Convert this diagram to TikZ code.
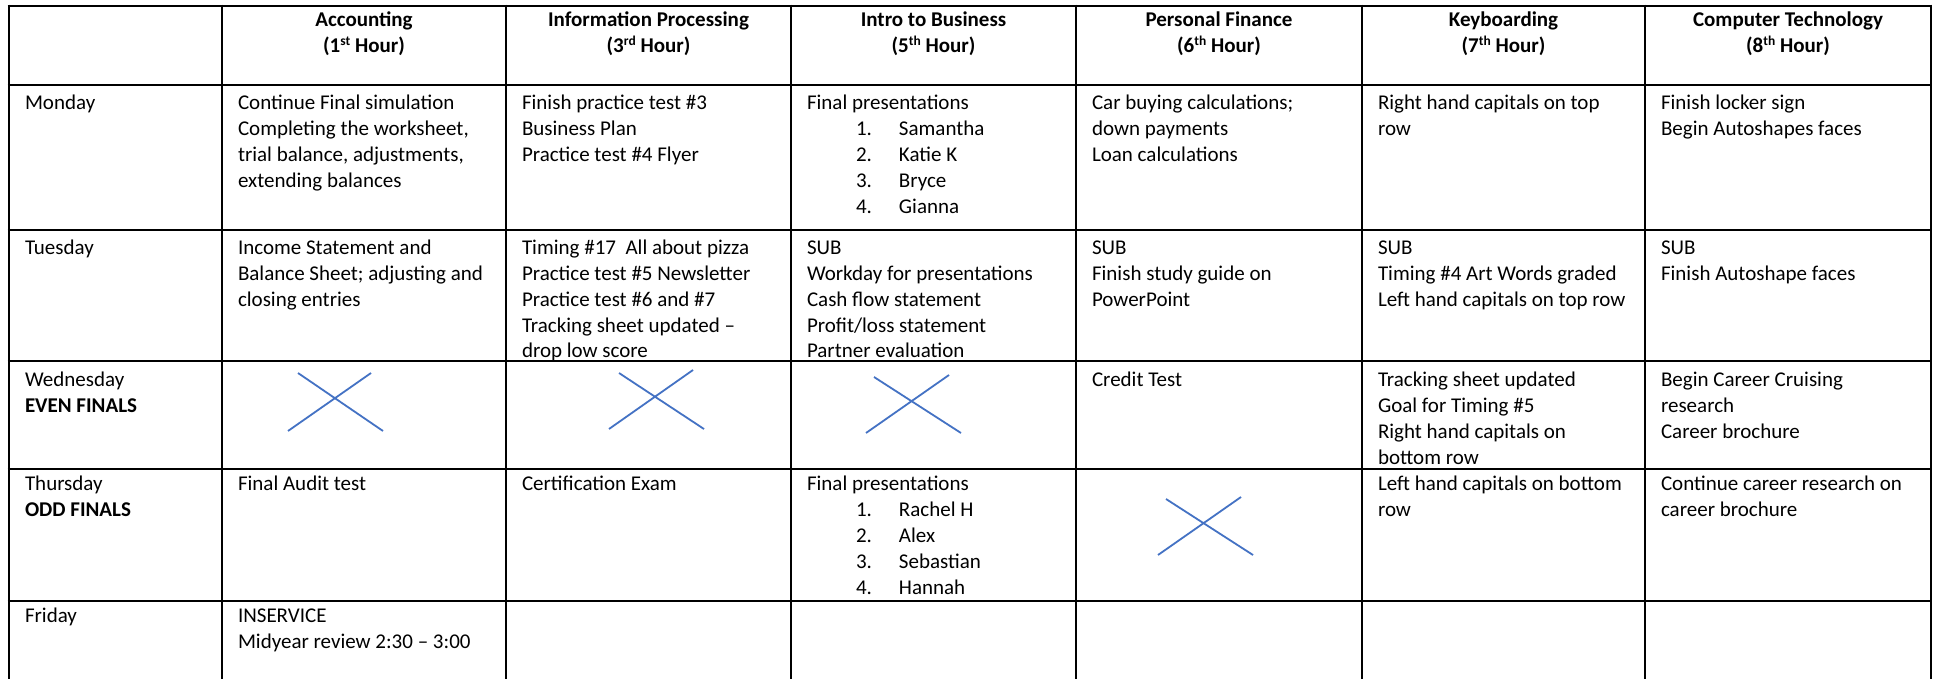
\documentclass[tikz,border=0pt]{standalone}
\usepackage{fontspec}
\setmainfont{Carlito}
\definecolor{xblue}{HTML}{4472C4}
\newcommand\hsup[1]{\raisebox{7.5pt}{\fontsize{13.5}{13.5}\selectfont #1}}
\newcommand\li[2]{\hspace*{49pt}\makebox[43pt][l]{#1}#2}
\newcommand\celltxt[1]{\begin{tabular}[t]{@{}l@{}}#1\end{tabular}}
\newcommand\headtxt[1]{\begin{tabular}[t]{@{}c@{}}#1\end{tabular}}
\begin{document}
\begin{tikzpicture}[x=1pt,y=-1pt,
  every node/.style={font=\fontsize{21}{26}\selectfont, inner sep=0pt, outer sep=0pt, text=black},
  cell/.style={anchor=base west},
  head/.style={anchor=base, font=\fontsize{21}{26}\selectfont\bfseries},
  gridline/.style={line width=2.6pt, black},
  xmark/.style={line width=1.8pt, xblue}]
\useasboundingbox (0,0) rectangle (1935,679);
\fill[white] (0,0) rectangle (1935,679);
% grid
\foreach \y in {6,85,230,361,469,601}
  \draw[gridline] (7.7,\y) -- (1932.3,\y);
\foreach \x in {9,222,506,791,1076,1362,1645,1931}
  \draw[gridline] (\x,4.7) -- (\x,682);
% header
\node[head] (h1) at (364,27) {\headtxt{Accounting\\(1\hsup{st} Hour)}};
\node[head] (h2) at (648.5,27) {\headtxt{Information Processing\\(3\hsup{rd} Hour)}};
\node[head] (h3) at (933.5,27) {\headtxt{Intro to Business\\(5\hsup{th} Hour)}};
\node[head] (h4) at (1219,27) {\headtxt{Personal Finance\\(6\hsup{th} Hour)}};
\node[head] (h5) at (1503.5,27) {\headtxt{Keyboarding\\(7\hsup{th} Hour)}};
\node[head] (h6) at (1788,27) {\headtxt{Computer Technology\\(8\hsup{th} Hour)}};
% Monday
\node[cell] (d1) at (25,110) {\celltxt{Monday}};
\node[cell] (m1) at (238,110) {\celltxt{Continue Final simulation\\Completing the worksheet,\\trial balance, adjustments,\\extending balances}};
\node[cell] (m2) at (522,110) {\celltxt{Finish practice test \#3\\Business Plan\\Practice test \#4 Flyer}};
\node[cell] (m3) at (807,110) {\celltxt{Final presentations\\\li{1.}{Samantha}\\\li{2.}{Katie K}\\\li{3.}{Bryce}\\\li{4.}{Gianna}}};
\node[cell] (m4) at (1092,110) {\celltxt{Car buying calculations;\\down payments\\Loan calculations}};
\node[cell] (m5) at (1378,110) {\celltxt{Right hand capitals on top\\row}};
\node[cell] (m6) at (1661,110) {\celltxt{Finish locker sign\\Begin Autoshapes faces}};
% Tuesday
\node[cell] (d2) at (25,254) {\celltxt{Tuesday}};
\node[cell] (t1) at (238,254) {\celltxt{Income Statement and\\Balance Sheet; adjusting and\\closing entries}};
\node[cell] (t2) at (522,254) {\celltxt{Timing \#17\ \ All about pizza\\Practice test \#5 Newsletter\\Practice test \#6 and \#7\\Tracking sheet updated –\\drop low score}};
\node[cell] (t3) at (807,254) {\celltxt{SUB\\Workday for presentations\\Cash flow statement\\Profit/loss statement\\Partner evaluation}};
\node[cell] (t4) at (1092,254) {\celltxt{SUB\\Finish study guide on\\PowerPoint}};
\node[cell] (t5) at (1378,254) {\celltxt{SUB\\Timing \#4 Art Words graded\\Left hand capitals on top row}};
\node[cell] (t6) at (1661,254) {\celltxt{SUB\\Finish Autoshape faces}};
% Wednesday
\node[cell] (d3) at (25,386) {\celltxt{Wednesday\\\textbf{EVEN FINALS}}};
\node[cell] (w4) at (1092,386) {\celltxt{Credit Test}};
\node[cell] (w5) at (1378,386) {\celltxt{Tracking sheet updated\\Goal for Timing \#5\\Right hand capitals on\\bottom row}};
\node[cell] (w6) at (1661,386) {\celltxt{Begin Career Cruising\\research\\Career brochure}};
% Thursday
\node[cell] (d4) at (25,490.5) {\celltxt{Thursday\\\textbf{ODD FINALS}}};
\node[cell] (r1) at (238,490.5) {\celltxt{Final Audit test}};
\node[cell] (r2) at (522,490.5) {\celltxt{Certification Exam}};
\node[cell] (r3) at (807,490.5) {\celltxt{Final presentations\\\li{1.}{Rachel H}\\\li{2.}{Alex}\\\li{3.}{Sebastian}\\\li{4.}{Hannah}}};
\node[cell] (r5) at (1378,490.5) {\celltxt{Left hand capitals on bottom\\row}};
\node[cell] (r6) at (1661,490.5) {\celltxt{Continue career research on\\career brochure}};
% Friday
\node[cell] (d5) at (25,622.5) {\celltxt{Friday}};
\node[cell] (f1) at (238,622.5) {\celltxt{INSERVICE\\Midyear review 2:30 – 3:00}};
% crosses
\draw[xmark] (288,431) -- (371,373) (298,373) -- (383,431);
\draw[xmark] (609,429) -- (693,370) (619,373) -- (704,429);
\draw[xmark] (866,433) -- (949,375) (874,377) -- (961,433);
\draw[xmark] (1158,555) -- (1241,497) (1166,499) -- (1253,555);
\end{tikzpicture}
\end{document}
